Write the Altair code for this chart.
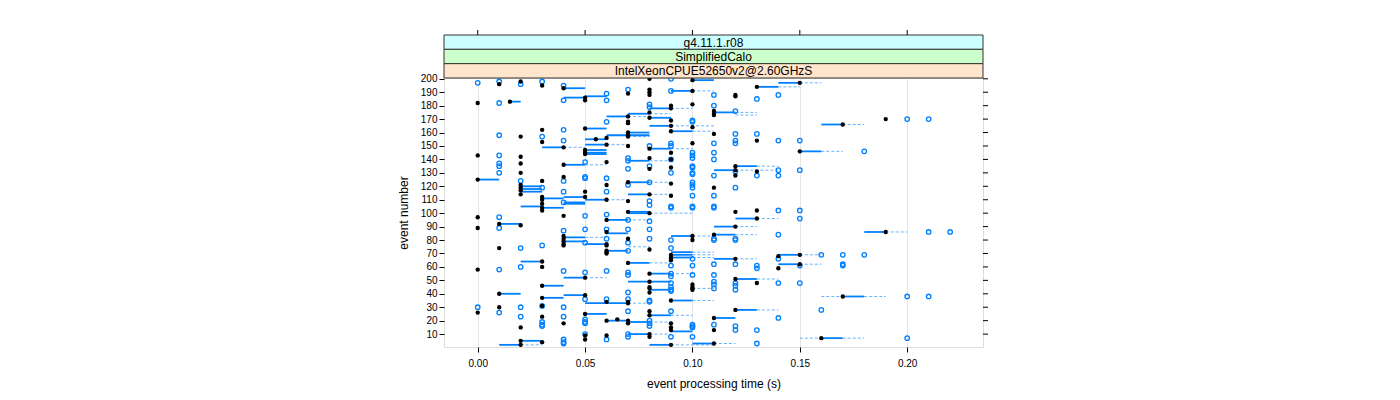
import altair as alt
import pandas as pd

# ---------------- data ----------------
strip_labels = ["g4.11.1.r08", "SimplifiedCalo", "IntelXeonCPUE52650v2@2.60GHzS"]
strip_colors = ["#ccffff", "#ccffcc", "#ffe5cc"]
x_ticks = [0.0, 0.05, 0.10, 0.15, 0.20]
y_ticks = list(range(10, 201, 10))

# medians (event, seconds)
median_points = [
    (200, 0.08), (199, 0.10), (198, 0.02), (197, 0.15), (196, 0.01), (195, 0.03), (194, 0.13), (193, 0.04),
    (192, 0.08), (191, 0.10), (190, 0.08), (189, 0.07), (188, 0.08), (188, 0.12), (187, 0.12), (186, 0.05),
    (184, 0.05), (183, 0.015), (182, 0.00), (181, 0.10), (180, 0.09), (178, 0.09), (176, 0.11), (175, 0.08),
    (174, 0.11), (173, 0.11), (172, 0.07), (171, 0.08), (170, 0.19), (169, 0.09), (168, 0.07),
    (167, 0.07), (166, 0.17), (165, 0.09), (164, 0.10), (163, 0.05), (162, 0.03), (161, 0.09), (160, 0.07),
    (159, 0.11), (158, 0.07), (157, 0.02), (157, 0.07), (156, 0.06), (155, 0.055), (154, 0.13), (153, 0.03),
    (152, 0.10), (151, 0.06), (150, 0.07), (149, 0.04), (148, 0.08), (147, 0.05), (146, 0.15), (145, 0.05),
    (145, 0.09), (144, 0.05), (143, 0.00), (142, 0.02), (141, 0.08), (140, 0.09), (138, 0.06), (137, 0.02),
    (136, 0.04), (135, 0.12), (134, 0.09),
    (133, 0.08), (132, 0.12), (131, 0.13), (130, 0.02), (128, 0.12), (127, 0.04), (125, 0.00), (124, 0.03),
    (123, 0.07), (122, 0.09), (121, 0.02), (121, 0.06), (119, 0.02), (119, 0.11), (117, 0.02), (116, 0.05),
    (114, 0.02), (114, 0.08), (113, 0.09), (112, 0.03), (112, 0.05), (110, 0.03), (110, 0.06), (109, 0.07),
    (107, 0.03), (104, 0.03), (102, 0.03), (102, 0.13), (101, 0.07),
    (101, 0.12), (100, 0.08), (98, 0.04), (97, 0.00), (96, 0.13), (95, 0.06), (92, 0.01), (91, 0.02),
    (90, 0.12), (89, 0.00), (86, 0.06), (86, 0.19), (84, 0.11), (83, 0.04), (83, 0.10), (81, 0.04),
    (81, 0.07), (80, 0.10), (79, 0.04), (77, 0.04), (77, 0.06), (76, 0.04), (76, 0.06), (74, 0.01),
    (73, 0.08), (72, 0.06), (71, 0.06), (70, 0.06), (69, 0.09), (69, 0.15), (68, 0.14),
    (67, 0.09), (66, 0.09), (66, 0.12), (65, 0.09), (64, 0.03), (63, 0.07), (62, 0.15), (60, 0.03),
    (59, 0.14), (58, 0.00), (55, 0.08), (52, 0.05), (51, 0.12), (49, 0.08), (48, 0.13), (47, 0.10),
    (46, 0.03), (45, 0.08), (45, 0.10), (44, 0.08), (44, 0.10), (43, 0.10), (41, 0.08), (40, 0.01),
    (39, 0.05), (38, 0.17), (37, 0.03), (35, 0.09),
    (34, 0.06), (34, 0.07), (33, 0.07), (31, 0.03), (30, 0.01), (28, 0.12), (27, 0.08), (26, 0.00),
    (25, 0.05), (24, 0.08), (23, 0.03), (22, 0.11), (21, 0.065), (20, 0.06), (20, 0.07), (18, 0.04),
    (18, 0.07), (18, 0.09), (15, 0.02), (15, 0.09), (13, 0.09), (13, 0.11), (10, 0.08), (9, 0.05),
    (9, 0.06), (8, 0.08), (7, 0.16), (6, 0.05), (5, 0.02), (4, 0.03), (3, 0.11), (2, 0.02), (2, 0.09),
]

# boxes (event, lower hinge, upper hinge)
box_segments = [
    (199, 0.10, 0.11), (197, 0.14, 0.15), (194, 0.13, 0.14), (193, 0.04, 0.05), (191, 0.09, 0.10),
    (187, 0.05, 0.06), (186, 0.04, 0.05), (183, 0.015, 0.02), (178, 0.08, 0.09), (175, 0.11, 0.12),
    (174, 0.07, 0.08), (172, 0.06, 0.07), (171, 0.08, 0.09),
    (166, 0.16, 0.17), (165, 0.08, 0.09), (163, 0.05, 0.06), (161, 0.09, 0.10), (160, 0.07, 0.08),
    (158, 0.06, 0.08), (155, 0.05, 0.06), (151, 0.05, 0.06), (149, 0.03, 0.04), (148, 0.08, 0.09),
    (147, 0.05, 0.06), (146, 0.15, 0.16), (145, 0.05, 0.06), (144, 0.05, 0.06), (139, 0.07, 0.08),
    (136, 0.04, 0.05), (135, 0.12, 0.13),
    (132, 0.11, 0.12), (125, 0.00, 0.01), (123, 0.07, 0.08), (120, 0.02, 0.03), (118, 0.02, 0.03),
    (116, 0.02, 0.03), (114, 0.07, 0.08), (112, 0.04, 0.05), (111, 0.03, 0.04), (110, 0.05, 0.06),
    (108, 0.04, 0.05), (107, 0.04, 0.05), (105, 0.02, 0.03), (104, 0.03, 0.04), (101, 0.07, 0.08),
    (100, 0.07, 0.08), (96, 0.12, 0.13), (95, 0.06, 0.07), (92, 0.01, 0.02), (90, 0.11, 0.12),
    (86, 0.18, 0.19), (85, 0.06, 0.07), (84, 0.11, 0.12), (83, 0.09, 0.10), (82, 0.04, 0.05),
    (79, 0.04, 0.05), (77, 0.05, 0.06), (72, 0.06, 0.07), (71, 0.09, 0.10), (69, 0.09, 0.10),
    (69, 0.14, 0.15),
    (67, 0.09, 0.10), (66, 0.11, 0.12), (64, 0.02, 0.03), (63, 0.07, 0.08), (62, 0.14, 0.15),
    (55, 0.08, 0.09), (52, 0.04, 0.05), (51, 0.12, 0.13), (49, 0.07, 0.09), (46, 0.03, 0.04),
    (43, 0.08, 0.09), (40, 0.01, 0.02), (39, 0.04, 0.05), (38, 0.17, 0.18), (37, 0.03, 0.04),
    (35, 0.09, 0.10),
    (33, 0.05, 0.07), (28, 0.12, 0.13), (25, 0.05, 0.06), (24, 0.08, 0.09), (22, 0.11, 0.12),
    (20, 0.06, 0.07), (19, 0.07, 0.08), (12, 0.09, 0.10), (10, 0.07, 0.08), (7, 0.16, 0.17),
    (5, 0.02, 0.03), (3, 0.10, 0.11), (2, 0.01, 0.02), (2, 0.08, 0.09),
]

# whiskers (event, from, to)
whisker_segments = [
    (197, 0.15, 0.16), (194, 0.14, 0.15), (191, 0.10, 0.11), (178, 0.09, 0.10), (175, 0.12, 0.13),
    (174, 0.08, 0.09), (173, 0.12, 0.13), (172, 0.07, 0.08),
    (166, 0.17, 0.18), (165, 0.09, 0.11), (161, 0.10, 0.11), (158, 0.07, 0.08), (157, 0.07, 0.08),
    (151, 0.06, 0.07), (149, 0.04, 0.05), (148, 0.09, 0.10), (146, 0.16, 0.17), (139, 0.08, 0.09),
    (136, 0.05, 0.06), (135, 0.13, 0.14),
    (132, 0.12, 0.14), (123, 0.08, 0.09), (114, 0.08, 0.09), (110, 0.06, 0.07),
    (100, 0.08, 0.10), (96, 0.13, 0.14), (95, 0.07, 0.08), (90, 0.12, 0.13), (86, 0.19, 0.20),
    (84, 0.12, 0.13), (83, 0.10, 0.11), (82, 0.05, 0.06), (75, 0.07, 0.08), (71, 0.10, 0.11),
    (69, 0.10, 0.11), (69, 0.15, 0.16),
    (67, 0.10, 0.11), (66, 0.12, 0.13), (63, 0.08, 0.09), (62, 0.15, 0.16), (55, 0.09, 0.10),
    (52, 0.05, 0.06), (51, 0.13, 0.14), (44, 0.10, 0.11), (38, 0.16, 0.17), (38, 0.18, 0.19),
    (35, 0.10, 0.11),
    (33, 0.07, 0.08), (28, 0.13, 0.14), (24, 0.09, 0.10), (19, 0.08, 0.09), (10, 0.08, 0.09),
    (7, 0.15, 0.16), (7, 0.17, 0.18), (3, 0.11, 0.12), (2, 0.02, 0.03), (2, 0.09, 0.11),
]

# outliers (event, seconds)
outlier_points = [
    (200, 0.09), (198, 0.01), (198, 0.03), (197, 0.00), (196, 0.02), (195, 0.04), (192, 0.07), (191, 0.09),
    (189, 0.06), (188, 0.11), (188, 0.14), (185, 0.13), (184, 0.04), (184, 0.06), (182, 0.01), (181, 0.08),
    (180, 0.11), (179, 0.08), (176, 0.12), (170, 0.20), (170, 0.21), (169, 0.10), (168, 0.06), (168, 0.10),
    (162, 0.04), (159, 0.12), (159, 0.13), (158, 0.01), (157, 0.03), (154, 0.04), (154, 0.12), (154, 0.14),
    (154, 0.15), (152, 0.09), (152, 0.11), (152, 0.12), (150, 0.08), (150, 0.09), (146, 0.18), (145, 0.10),
    (145, 0.11), (143, 0.01), (143, 0.10), (141, 0.07), (141, 0.10), (140, 0.09), (140, 0.11), (139, 0.07),
    (138, 0.05), (137, 0.01), (135, 0.08), (135, 0.10),
    (135, 0.01), (134, 0.10), (133, 0.07), (132, 0.14), (132, 0.15), (131, 0.12), (130, 0.01), (130, 0.09),
    (130, 0.10), (129, 0.10), (128, 0.11), (128, 0.13), (128, 0.14), (127, 0.05), (126, 0.05), (126, 0.06),
    (124, 0.02), (124, 0.04), (123, 0.08), (123, 0.10), (121, 0.07), (121, 0.10), (119, 0.03), (119, 0.10),
    (119, 0.12), (116, 0.04), (116, 0.06), (113, 0.10), (113, 0.11), (109, 0.08), (108, 0.04), (106, 0.08),
    (105, 0.09), (105, 0.10), (105, 0.11), (104, 0.09), (104, 0.10), (104, 0.11), (102, 0.14), (102, 0.15),
    (99, 0.06), (98, 0.05), (97, 0.01), (96, 0.15), (95, 0.07), (94, 0.08), (89, 0.01), (88, 0.05),
    (88, 0.06), (88, 0.07), (88, 0.08), (87, 0.04), (86, 0.21), (86, 0.22), (84, 0.14), (81, 0.06),
    (81, 0.08), (81, 0.11), (81, 0.12), (80, 0.09), (80, 0.11), (80, 0.12), (78, 0.05), (78, 0.07),
    (76, 0.03), (74, 0.02), (74, 0.09), (72, 0.07), (69, 0.16), (69, 0.17), (69, 0.18),
    (66, 0.10), (66, 0.14), (62, 0.11), (62, 0.12), (62, 0.17), (61, 0.09), (61, 0.10), (61, 0.13),
    (61, 0.15), (61, 0.17), (60, 0.02), (59, 0.13), (58, 0.01), (57, 0.04), (57, 0.06), (56, 0.05),
    (56, 0.07), (55, 0.09), (54, 0.07), (54, 0.10), (54, 0.11), (53, 0.09), (49, 0.11), (48, 0.09),
    (48, 0.12), (48, 0.14), (48, 0.15), (47, 0.11), (46, 0.12), (45, 0.09), (44, 0.11), (43, 0.09),
    (43, 0.12), (42, 0.09), (41, 0.07), (38, 0.20), (38, 0.21), (36, 0.05), (36, 0.06), (36, 0.07),
    (35, 0.08),
    (34, 0.08), (31, 0.03), (30, 0.00), (30, 0.02), (30, 0.04), (28, 0.16), (27, 0.07), (27, 0.09),
    (26, 0.01), (23, 0.02), (23, 0.04), (22, 0.14), (21, 0.05), (20, 0.08), (19, 0.03), (19, 0.05),
    (18, 0.05), (18, 0.08), (17, 0.03), (17, 0.10), (17, 0.11), (16, 0.03), (16, 0.08), (16, 0.10),
    (16, 0.12), (15, 0.10), (13, 0.12), (13, 0.13), (10, 0.05), (10, 0.07), (8, 0.07), (8, 0.09),
    (8, 0.10), (7, 0.20), (6, 0.04), (6, 0.06), (4, 0.04), (3, 0.04), (3, 0.13),
]

# ---------------- chart ----------------
W, H = 539, 269
STRIP_H = 14.33
FONT = "Liberation Sans"
BLUE = "#0080ff"

med_df = pd.DataFrame(median_points, columns=["event", "time"])
box_df = pd.DataFrame(box_segments, columns=["event", "lo", "hi"])
whi_df = pd.DataFrame(whisker_segments, columns=["event", "lo", "hi"])
out_df = pd.DataFrame(outlier_points, columns=["event", "time"])
xt_df = pd.DataFrame({"time": x_ticks})
yt_df = pd.DataFrame({"event": y_ticks})

xs = alt.Scale(domain=[-0.0157, 0.2353], nice=False, zero=False)
ys = alt.Scale(domain=[0.4, 200.6], nice=False, zero=False)

x_axis = alt.Axis(
    values=x_ticks, format=".2f", title="event processing time (s)",
    grid=True, gridColor="#e6e6e6", gridWidth=1, domain=False,
    tickSize=5, tickColor="#000", labelFontSize=10, labelPadding=6, labelColor="#000",
    titleFontSize=12, titleFontWeight="normal", titleColor="#000",
    titleY=36, titleBaseline="middle", titleX=W / 2,
)
y_axis = alt.Axis(
    values=y_ticks, title="event number", grid=False, domain=False,
    tickSize=5, tickColor="#000", labelFontSize=10, labelPadding=2, labelColor="#000",
    titleFontSize=12, titleFontWeight="normal", titleColor="#000",
    titleX=-41, titleY=H / 2, titleAngle=270, titleAlign="center", titleBaseline="middle",
)


def X(field):
    return alt.X(field, type="quantitative", scale=xs, axis=x_axis, title="event processing time (s)")


def Y(field):
    return alt.Y(field, type="quantitative", scale=ys, axis=y_axis, title="event number")


whiskers = alt.Chart(whi_df).mark_rule(color=BLUE, strokeWidth=1, strokeDash=[3, 2], opacity=0.6).encode(
    x=X("lo"), x2="hi", y=Y("event"),
)
boxes = alt.Chart(box_df).mark_rule(color=BLUE, strokeWidth=1.8).encode(
    x=X("lo"), x2="hi", y=Y("event"),
)
outliers = alt.Chart(out_df).mark_point(shape="circle", filled=False, color=BLUE, strokeWidth=1.3, size=20, opacity=1).encode(
    x=X("time"), y=Y("event"),
)
medians = alt.Chart(med_df).mark_circle(color="#000", size=19, opacity=1).encode(
    x=X("time"), y=Y("event"),
)

# ticks on the top (above the strips) and on the right side
top_ticks = alt.Chart(xt_df).mark_rule(color="#000", strokeWidth=1).encode(
    x=X("time"),
    y=alt.value(-3 * STRIP_H - 5), y2=alt.value(-3 * STRIP_H),
)
right_ticks = alt.Chart(yt_df).mark_rule(color="#000", strokeWidth=1).encode(
    y=Y("event"),
    x=alt.value(W), x2=alt.value(W + 5),
)

layers = [whiskers, boxes, outliers, medians, top_ticks, right_ticks]

for i, (lab, col) in enumerate(zip(strip_labels, strip_colors)):
    top = -3 * STRIP_H + i * STRIP_H
    sdf = pd.DataFrame({"label": [lab]})
    layers.append(
        alt.Chart(sdf).mark_rect(fill=col, stroke="#333", strokeWidth=1).encode(
            x=alt.value(0), x2=alt.value(W), y=alt.value(top), y2=alt.value(top + STRIP_H)
        )
    )
    layers.append(
        alt.Chart(sdf).mark_text(font=FONT, fontSize=12, color="#000", baseline="middle", align="center").encode(
            x=alt.value(W / 2), y=alt.value(top + STRIP_H / 2 + 0.5), text="label:N"
        )
    )

chart = alt.layer(*layers).properties(
    width=W, height=H,
    autosize=alt.AutoSizeParams(type="none"),
    padding={"left": 436, "top": 70, "right": 1400 - 16 - 436 - W, "bottom": 400 - 16 - 70 - H},
).configure_view(
    stroke="#333", strokeWidth=1
).configure_axis(
    labelFont=FONT, titleFont=FONT
).configure(background="white")

chart.save("out.html", embed_options={"renderer": "svg", "actions": False})
